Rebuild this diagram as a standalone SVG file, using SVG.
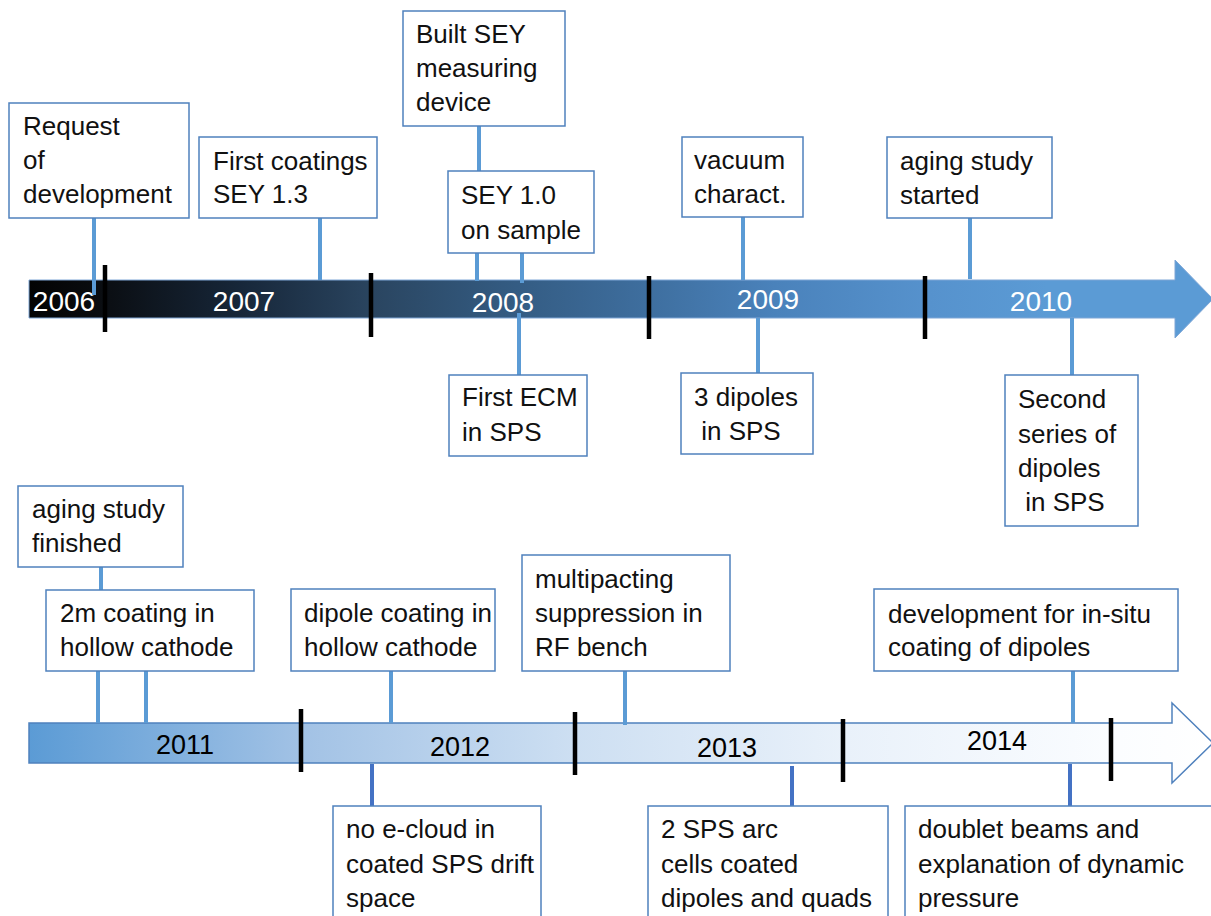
<svg xmlns="http://www.w3.org/2000/svg" width="1211" height="916" viewBox="0 0 1211 916">
<defs>
<linearGradient id="gTop" gradientUnits="userSpaceOnUse" x1="29" y1="0" x2="1213" y2="0">
<stop offset="0" stop-color="#030303"/>
<stop offset="0.06" stop-color="#0a0d11"/>
<stop offset="0.18" stop-color="#17273a"/>
<stop offset="0.29" stop-color="#2a4560"/>
<stop offset="0.4" stop-color="#335a80"/>
<stop offset="0.52" stop-color="#3e6e9e"/>
<stop offset="0.63" stop-color="#4a82bb"/>
<stop offset="0.76" stop-color="#5692cd"/>
<stop offset="0.86" stop-color="#5b9bd5"/>
<stop offset="1" stop-color="#5b9bd5"/>
</linearGradient>
<linearGradient id="gBot" gradientUnits="userSpaceOnUse" x1="29" y1="0" x2="1213" y2="0">
<stop offset="0" stop-color="#5b9bd5"/>
<stop offset="0.23" stop-color="#a2c2e5"/>
<stop offset="0.46" stop-color="#cddff2"/>
<stop offset="0.69" stop-color="#e9f1fa"/>
<stop offset="0.92" stop-color="#fbfdff"/>
<stop offset="1" stop-color="#ffffff"/>
</linearGradient>
</defs>
<style>
.box{fill:#ffffff;stroke:#4f81bd;stroke-width:1.5}
.t{font-family:"Liberation Sans",Arial,sans-serif;font-size:26px;fill:#111111}
.yw{font-family:"Liberation Sans",Arial,sans-serif;font-size:28px;fill:#ffffff;text-anchor:middle}
.yb{font-family:"Liberation Sans",Arial,sans-serif;font-size:27px;fill:#000000;text-anchor:middle}
.c{stroke:#5b9bd5;stroke-width:4;fill:none}
.cd{stroke:#4472c4;stroke-width:4;fill:none}
.tick{stroke:#000000;stroke-width:4.5}
</style>
<rect width="1211" height="916" fill="#ffffff"/>

<g id="timeline-top">
<path d="M29,280 H1175 V260 L1213,299 L1175,338 V318 H29 Z" fill="url(#gTop)" stroke="#7ea6d6" stroke-width="1"/>
<line class="tick" x1="105" y1="265" x2="105" y2="332"/>
<line class="tick" x1="371" y1="273" x2="371" y2="337"/>
<line class="tick" x1="649" y1="276" x2="649" y2="339"/>
<line class="tick" x1="925" y1="276" x2="925" y2="339"/>
<text class="yw" x="64" y="311">2006</text>
<text class="yw" x="244" y="311">2007</text>
<text class="yw" x="503" y="312">2008</text>
<text class="yw" x="768" y="309">2009</text>
<text class="yw" x="1041" y="311">2010</text>
</g>

<g id="timeline-bottom">
<path d="M29,723 H1172 V703 L1213,743 L1172,783 V763 H29 Z" fill="url(#gBot)" stroke="#4f81bd" stroke-width="1.5"/>
<line class="tick" x1="301" y1="709" x2="301" y2="772"/>
<line class="tick" x1="575" y1="712" x2="575" y2="775"/>
<line class="tick" x1="843" y1="719" x2="843" y2="782"/>
<line class="tick" x1="1111" y1="718" x2="1111" y2="781"/>
<text class="yb" x="185" y="754">2011</text>
<text class="yb" x="460" y="756">2012</text>
<text class="yb" x="727" y="757">2013</text>
<text class="yb" x="997" y="750">2014</text>
</g>

<g id="connectors">
<line class="c" x1="94" y1="218" x2="94" y2="295"/>
<line class="c" x1="320" y1="218" x2="320" y2="280"/>
<line class="c" x1="479" y1="126" x2="479" y2="171"/>
<line class="c" x1="477" y1="253" x2="477" y2="281"/>
<line class="c" x1="522" y1="253" x2="522" y2="283"/>
<line class="c" x1="519" y1="313" x2="519" y2="375"/>
<line class="c" x1="743" y1="217" x2="743" y2="280"/>
<line class="c" x1="758" y1="318" x2="758" y2="373"/>
<line class="c" x1="970" y1="218" x2="970" y2="279"/>
<line class="c" x1="1072" y1="318" x2="1072" y2="375"/>
<line class="c" x1="101" y1="567" x2="101" y2="590"/>
<line class="c" x1="98" y1="671" x2="98" y2="723"/>
<line class="c" x1="146" y1="671" x2="146" y2="723"/>
<line class="c" x1="391" y1="671" x2="391" y2="723"/>
<line class="c" x1="625" y1="671" x2="625" y2="725"/>
<line class="c" x1="1073" y1="671" x2="1073" y2="723"/>
<line class="cd" x1="372" y1="764" x2="372" y2="806"/>
<line class="cd" x1="792" y1="766" x2="792" y2="806"/>
<line class="cd" x1="1070" y1="764" x2="1070" y2="806"/>
</g>

<g id="n-request">
<rect class="box" x="9" y="103" width="180" height="115"/>
<text class="t" x="23" y="135">Request</text>
<text class="t" x="23" y="169">of</text>
<text class="t" x="23" y="203">development</text>
</g>
<g id="n-first-coatings">
<rect class="box" x="199" y="137" width="178" height="81"/>
<text class="t" x="213" y="170">First coatings</text>
<text class="t" x="213" y="203">SEY 1.3</text>
</g>
<g id="n-built-sey">
<rect class="box" x="403" y="11" width="162" height="115"/>
<text class="t" x="416" y="43">Built SEY</text>
<text class="t" x="416" y="77">measuring</text>
<text class="t" x="416" y="111">device</text>
</g>
<g id="n-sey10">
<rect class="box" x="448" y="171" width="146" height="82"/>
<text class="t" x="461" y="204">SEY 1.0</text>
<text class="t" x="461" y="239">on sample</text>
</g>
<g id="n-vacuum">
<rect class="box" x="682" y="137" width="121" height="80"/>
<text class="t" x="694" y="169">vacuum</text>
<text class="t" x="694" y="203">charact.</text>
</g>
<g id="n-aging-started">
<rect class="box" x="887" y="137" width="165" height="81"/>
<text class="t" x="900" y="170">aging study</text>
<text class="t" x="900" y="204">started</text>
</g>
<g id="n-first-ecm">
<rect class="box" x="449" y="375" width="138" height="81"/>
<text class="t" x="462" y="406">First ECM</text>
<text class="t" x="462" y="441">in SPS</text>
</g>
<g id="n-3dipoles">
<rect class="box" x="681" y="373" width="132" height="81"/>
<text class="t" x="694" y="406">3 dipoles</text>
<text class="t" x="694" y="440" xml:space="preserve"> in SPS</text>
</g>
<g id="n-second-series">
<rect class="box" x="1005" y="375" width="133" height="151"/>
<text class="t" x="1018" y="408">Second</text>
<text class="t" x="1018" y="443">series of</text>
<text class="t" x="1018" y="477">dipoles</text>
<text class="t" x="1018" y="511" xml:space="preserve"> in SPS</text>
</g>

<g id="n-aging-finished">
<rect class="box" x="18" y="486" width="165" height="81"/>
<text class="t" x="32" y="518">aging study</text>
<text class="t" x="32" y="552">finished</text>
</g>
<g id="n-2m">
<rect class="box" x="46" y="590" width="208" height="81"/>
<text class="t" x="60" y="622">2m coating in</text>
<text class="t" x="60" y="656">hollow cathode</text>
</g>
<g id="n-dipole-coating">
<rect class="box" x="291" y="589" width="204" height="82"/>
<text class="t" x="304" y="622">dipole coating in</text>
<text class="t" x="304" y="656">hollow cathode</text>
</g>
<g id="n-multipacting">
<rect class="box" x="522" y="555" width="208" height="116"/>
<text class="t" x="535" y="588">multipacting</text>
<text class="t" x="535" y="622">suppression in</text>
<text class="t" x="535" y="656">RF bench</text>
</g>
<g id="n-development">
<rect class="box" x="874" y="589" width="304" height="82"/>
<text class="t" x="888" y="623">development for in-situ</text>
<text class="t" x="888" y="656">coating of dipoles</text>
</g>
<g id="n-no-ecloud">
<rect class="box" x="333" y="806" width="208" height="120"/>
<text class="t" x="346" y="838">no e-cloud in</text>
<text class="t" x="346" y="873">coated SPS drift</text>
<text class="t" x="346" y="907">space</text>
</g>
<g id="n-2sps">
<rect class="box" x="648" y="806" width="240" height="120"/>
<text class="t" x="661" y="838">2 SPS arc</text>
<text class="t" x="661" y="873">cells coated</text>
<text class="t" x="661" y="907">dipoles and quads</text>
</g>
<g id="n-doublet">
<rect class="box" x="905" y="806" width="320" height="120"/>
<text class="t" x="918" y="838">doublet beams and</text>
<text class="t" x="918" y="873">explanation of dynamic</text>
<text class="t" x="918" y="907">pressure</text>
</g>
</svg>
